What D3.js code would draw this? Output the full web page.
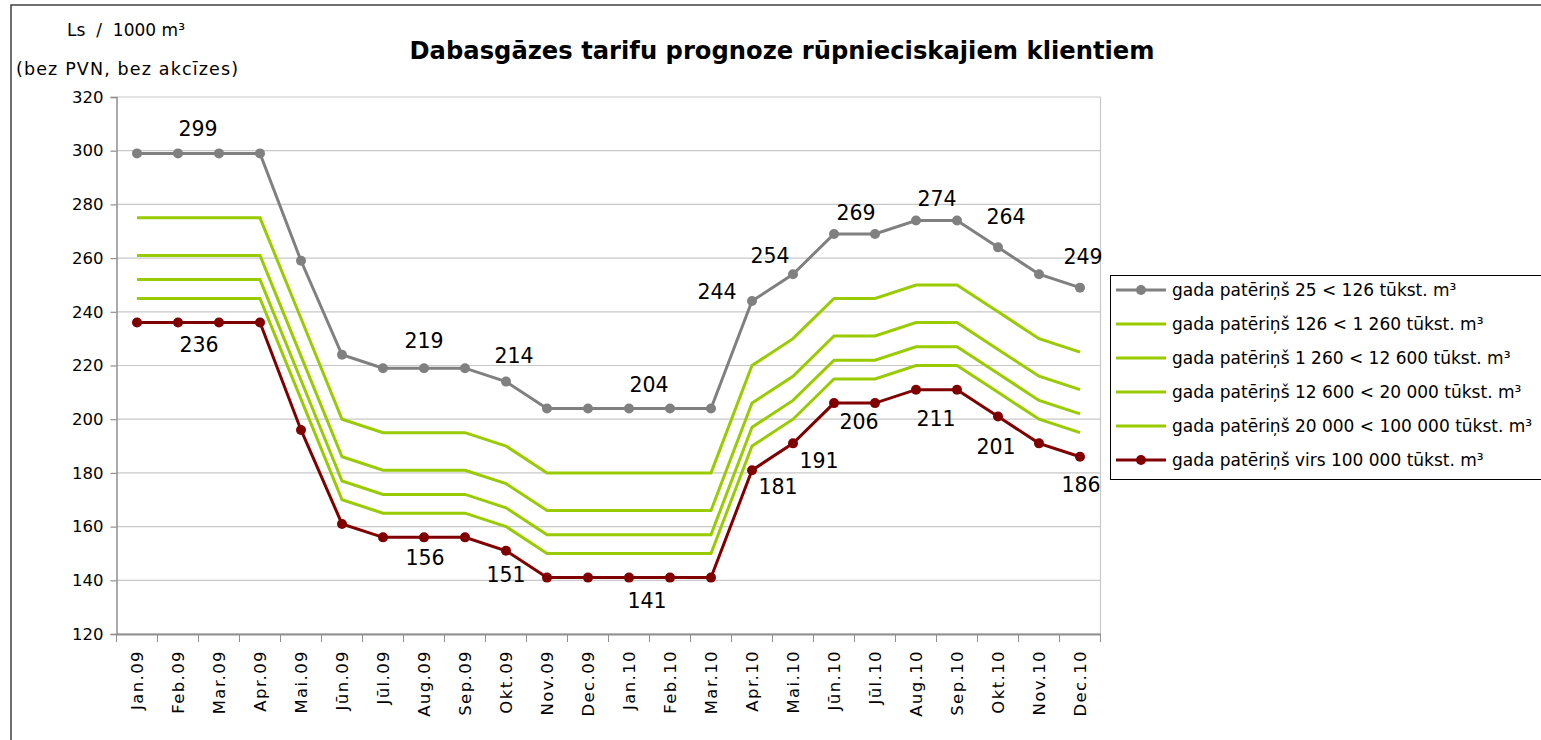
<!DOCTYPE html>
<html>
<head>
<meta charset="utf-8">
<script src="https://cdn.jsdelivr.net/npm/d3@7"></script>
<style>
  body { margin: 0; background: #fff; }
  svg { display: block; font-family: "DejaVu Sans", Verdana, sans-serif; }
</style>
</head>
<body>
<svg id="chart" width="1541" height="740"></svg>
<script>
// months on the x axis
var months = ['Jan.09', 'Feb.09', 'Mar.09', 'Apr.09', 'Mai.09', 'Jūn.09', 'Jūl.09', 'Aug.09',
    'Sep.09', 'Okt.09', 'Nov.09', 'Dec.09', 'Jan.10', 'Feb.10', 'Mar.10', 'Apr.10',
    'Mai.10', 'Jūn.10', 'Jūl.10', 'Aug.10', 'Sep.10', 'Okt.10', 'Nov.10', 'Dec.10'];

var yTicks = [120, 140, 160, 180, 200, 220, 240, 260, 280, 300, 320];

var legendNames = [
    'gada patēriņš 25 < 126 tūkst. m³',
    'gada patēriņš 126 < 1 260 tūkst. m³',
    'gada patēriņš 1 260 < 12 600 tūkst. m³',
    'gada patēriņš 12 600 < 20 000 tūkst. m³',
    'gada patēriņš 20 000 < 100 000 tūkst. m³',
    'gada patēriņš virs 100 000 tūkst. m³'
];

var s25 = [299, 299, 299, 299, 259, 224, 219, 219, 219, 214, 204, 204, 204, 204, 204, 244,
    254, 269, 269, 274, 274, 264, 254, 249];
var s126 = [275, 275, 275, 275, 237.5, 200, 195, 195, 195, 190, 180, 180, 180, 180, 180, 220,
    230, 245, 245, 250, 250, 240, 230, 225];
var s1260 = [261, 261, 261, 261, 223.5, 186, 181, 181, 181, 176, 166, 166, 166, 166, 166, 206,
    216, 231, 231, 236, 236, 226, 216, 211];
var s12600 = [252, 252, 252, 252, 214.5, 177, 172, 172, 172, 167, 157, 157, 157, 157, 157, 197,
    207, 222, 222, 227, 227, 217, 207, 202];
var s20000 = [245, 245, 245, 245, 207.5, 170, 165, 165, 165, 160, 150, 150, 150, 150, 150, 190,
    200, 215, 215, 220, 220, 210, 200, 195];
var s100000 = [236, 236, 236, 236, 196, 161, 156, 156, 156, 151, 141, 141, 141, 141, 141, 181,
    191, 206, 206, 211, 211, 201, 191, 186];

// which points carry a value label
var labels25 = [1, 7, 9, 12, 15, 16, 17, 19, 21, 23];
var labels100000 = [1, 7, 9, 12, 15, 16, 17, 19, 21, 23];

var svg = d3.select('#chart');

// label offsets (px) from the point they belong to
var offs25 = [[20, -25], [0, -28], [8, -26], [20, -24], [-35, -9], [-23, -19], [22, -21], [21, -22], [8, -31], [3, -31]];
var offs100000 = [[21, 22], [1, 20], [0, 24], [18, 23], [26, 16], [26, 17], [25, 19], [20, 29], [-2, 30], [1, 28]];

var series = [
    { name: legendNames[0], values: s25, color: '#808080', marker: true },
    { name: legendNames[1], values: s126, color: '#99cc00', marker: false },
    { name: legendNames[2], values: s1260, color: '#99cc00', marker: false },
    { name: legendNames[3], values: s12600, color: '#99cc00', marker: false },
    { name: legendNames[4], values: s20000, color: '#99cc00', marker: false },
    { name: legendNames[5], values: s100000, color: '#800000', marker: true }
];

var x = d3.scaleBand().domain(months).range([116.5, 1100.5]);
var y = d3.scaleLinear().domain([120, 320]).range([634, 97]);
var cx = function (i) { return x(months[i]) + x.bandwidth() / 2; };

// outer frame
svg.append('rect')
    .attr('x', 11).attr('y', 5)
    .attr('width', 1700).attr('height', 900)
    .attr('fill', 'none')
    .attr('stroke', '#404040')
    .attr('stroke-width', 1.5);

// gridlines
svg.append('g')
    .selectAll('line')
    .data(yTicks)
    .enter().append('line')
    .attr('x1', 116.5).attr('x2', 1100.5)
    .attr('y1', function (d) { return y(d); })
    .attr('y2', function (d) { return y(d); })
    .attr('stroke', '#c8c8c8')
    .attr('stroke-width', 1.2);

// right border of the plot area
svg.append('line')
    .attr('x1', 1100.5).attr('x2', 1100.5)
    .attr('y1', y(320)).attr('y2', y(120))
    .attr('stroke', '#c8c8c8').attr('stroke-width', 1.2);

// y axis
var yAxis = svg.append('g')
    .attr('transform', 'translate(116.5,0)')
    .call(d3.axisLeft(y).tickValues(yTicks).tickSize(6).tickPadding(7));
yAxis.select('.domain').attr('stroke', '#909090').attr('stroke-width', 1.5);
yAxis.selectAll('.tick line').attr('stroke', '#909090').attr('stroke-width', 1.2);
yAxis.selectAll('text')
    .attr('font-family', '"DejaVu Sans", sans-serif')
    .attr('font-size', 16.5).attr('fill', '#000');

// x axis
var xAxis = svg.append('g')
    .attr('transform', 'translate(0,634)')
    .call(d3.axisBottom(x).tickSize(0).tickPadding(0));
xAxis.select('.domain').attr('stroke', '#909090').attr('stroke-width', 2);
xAxis.selectAll('text')
    .attr('font-family', '"DejaVu Sans", sans-serif')
    .attr('font-size', 16.5)
    .attr('letter-spacing', 1.4)
    .attr('fill', '#000')
    .attr('text-anchor', 'end')
    .attr('dy', '0.35em')
    .attr('transform', 'translate(0,16) rotate(-90)')
    .attr('x', 0).attr('y', 0);

// tick marks between categories
svg.append('g')
    .selectAll('line')
    .data(months.concat(['end']))
    .enter().append('line')
    .attr('x1', function (d, i) { return 116.5 + i * x.bandwidth(); })
    .attr('x2', function (d, i) { return 116.5 + i * x.bandwidth(); })
    .attr('y1', 634).attr('y2', 642)
    .attr('stroke', '#909090').attr('stroke-width', 1);

// lines
var line = d3.line()
    .x(function (d, i) { return cx(i); })
    .y(function (d) { return y(d); });

var drawOrder = [1, 2, 3, 4, 0, 5];
drawOrder.forEach(function (k) {
    var s = series[k];
    svg.append('path')
        .datum(s.values)
        .attr('d', line)
        .attr('fill', 'none')
        .attr('stroke', s.color)
        .attr('stroke-width', 3);
    if (s.marker) {
        svg.append('g')
            .selectAll('circle')
            .data(s.values)
            .enter().append('circle')
            .attr('cx', function (d, i) { return cx(i); })
            .attr('cy', function (d) { return y(d); })
            .attr('r', 5)
            .attr('fill', s.color);
    }
});

// value labels
function addLabels(values, idx, offs) {
    svg.append('g')
        .selectAll('text')
        .data(idx)
        .enter().append('text')
        .attr('x', function (d, j) { return cx(d) + offs[j][0]; })
        .attr('y', function (d, j) { return y(values[d]) + offs[j][1]; })
        .attr('text-anchor', 'middle')
        .attr('dy', '0.36em')
        .attr('font-size', 20.5)
        .attr('fill', '#000')
        .text(function (d) { return values[d]; });
}
addLabels(s25, labels25, offs25);
addLabels(s100000, labels100000, offs100000);

// title and axis caption
svg.append('text')
    .attr('x', 782).attr('y', 59)
    .attr('text-anchor', 'middle')
    .attr('font-size', 25).attr('font-weight', 'bold')
    .attr('textLength', 745).attr('lengthAdjust', 'spacingAndGlyphs')
    .text('Dabasgāzes tarifu prognoze rūpnieciskajiem klientiem');

svg.append('text')
    .attr('x', 67).attr('y', 36)
    .attr('font-size', 17)
    .attr('xml:space', 'preserve')
    .attr('textLength', 118).attr('lengthAdjust', 'spacing')
    .text('Ls  /  1000 m³');

svg.append('text')
    .attr('x', 16).attr('y', 75)
    .attr('font-size', 17.5)
    .attr('textLength', 222).attr('lengthAdjust', 'spacing')
    .text('(bez PVN, bez akcīzes)');

// legend
var lg = svg.append('g');
lg.append('rect')
    .attr('x', 1110.5).attr('y', 275.5)
    .attr('width', 500).attr('height', 204)
    .attr('fill', '#fff')
    .attr('stroke', '#000').attr('stroke-width', 1);

var ly = d3.scalePoint().domain(d3.range(series.length)).range([290, 460]);
series.forEach(function (s, k) {
    var g = lg.append('g').attr('transform', 'translate(0,' + ly(k) + ')');
    g.append('line')
        .attr('x1', 1116).attr('x2', 1166)
        .attr('stroke', s.color).attr('stroke-width', 3);
    if (s.marker) {
        g.append('circle').attr('cx', 1141).attr('r', 5).attr('fill', s.color);
    }
    g.append('text')
        .attr('x', 1172).attr('dy', '0.35em')
        .attr('font-size', 17)
        .text(s.name);
});
</script>
</body>
</html>
